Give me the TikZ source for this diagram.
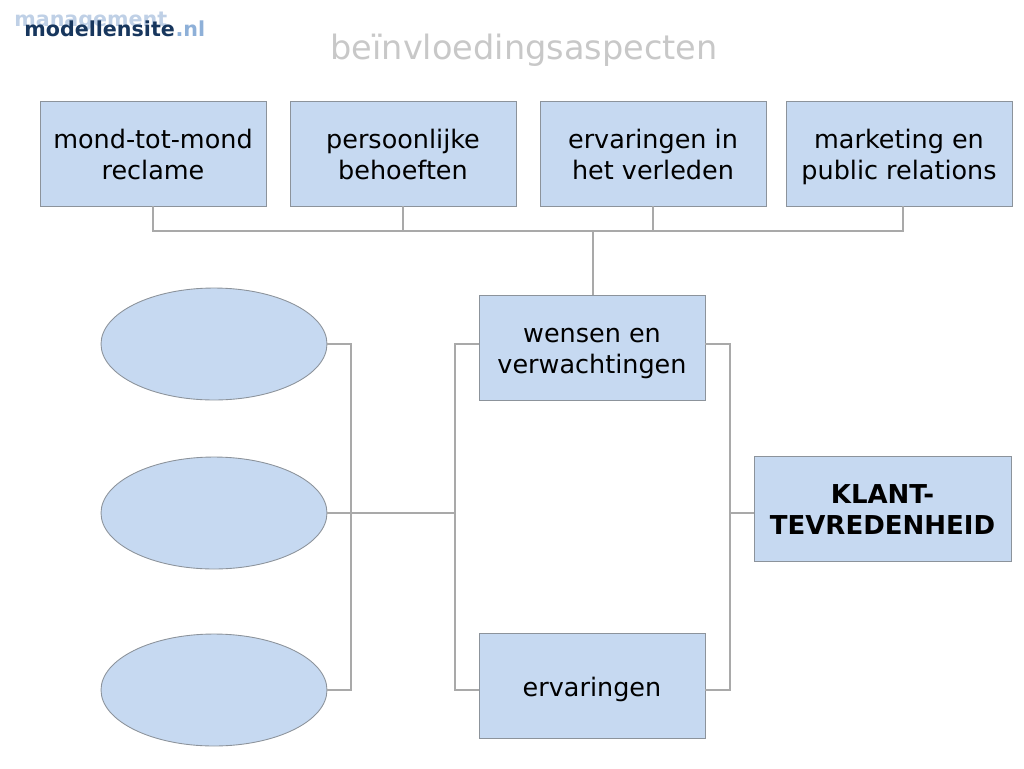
\documentclass[tikz,border=0pt]{standalone}
\usepackage{xcolor}
\usepackage{fontspec}
\setmainfont{DejaVu Sans}
\definecolor{MSFill}{HTML}{C6D9F1}
\definecolor{MSEdge}{HTML}{8C939B}
\definecolor{MSLine}{HTML}{A9A9A9}
\definecolor{MSTitle}{HTML}{C8C8C8}
\definecolor{MSDark}{HTML}{17365D}
\definecolor{MSMid}{HTML}{8EB0D8}
\definecolor{MSPale}{HTML}{BFD0E6}
\newcommand{\lbltop}{\rule{0pt}{15.2pt}}
\newcommand{\lblbot}{\rule[-3.6pt]{0pt}{3.6pt}}
\tikzset{
  infobox/.style={draw=MSEdge,line width=.5pt,fill=MSFill,minimum width=4.52cm,minimum height=2.1cm,inner sep=0pt,align=center,font=\fontsize{14.5}{17.6}\selectfont},
  blankoval/.style={draw=MSEdge,line width=.5pt,fill=MSFill,ellipse,minimum width=4.52cm,minimum height=2.24cm,inner sep=0pt},
  linkline/.style={draw=MSLine,line width=1.5pt},
  logotext/.style={anchor=base west,inner sep=0pt,font=\bfseries\fontsize{11.75}{13}\selectfont}
}
\usetikzlibrary{shapes.geometric}
\begin{document}
\begin{tikzpicture}[x=0.02cm,y=-0.02cm]
\path[use as bounding box] (0,0) rectangle (1024,768);
% logo and title
\node[logotext,text=MSPale] (logoback) at (14,26) {management};
\node[logotext,text=MSDark] (logofront) at (24,36) {modellensite};
\node[logotext,text=MSMid] (logonl) at (logofront.base east) {.nl};
\node[text=MSTitle,inner sep=0pt,font=\fontsize{19.1}{22}\selectfont] (title) at (524,50.5) {beïnvloedingsaspecten};
% top row
\node[infobox] (mond) at (153,153.5) {\lbltop mond-tot-mond\\reclame\lblbot};
\node[infobox] (behoeften) at (403,153.5) {\lbltop persoonlijke\\behoeften\lblbot};
\node[infobox] (verleden) at (653,153.5) {\lbltop ervaringen in\\het verleden\lblbot};
\node[infobox] (marketing) at (899,153.5) {\lbltop marketing en\\public relations\lblbot};
% middle
\node[infobox] (wensen) at (592,347.5) {\lbltop wensen en\\verwachtingen\lblbot};
\node[infobox] (ervaringen) at (592,686) {\lbltop ervaringen\lblbot};
\node[infobox,minimum width=5.14cm,font=\bfseries\fontsize{14.8}{17.6}\selectfont] (klant) at (882.5,509) {\lbltop KLANT-\\TEVREDENHEID\lblbot};
% ovals
\node[blankoval] (ovalA) at (214,344) {};
\node[blankoval] (ovalB) at (214,513) {};
\node[blankoval] (ovalC) at (214,690) {};
% connector points
\coordinate (bustop) at (593,231);
\coordinate (busL) at (mond.south |- bustop);
\coordinate (busR) at (903,231);
\coordinate (marketingS) at (903,206);
\coordinate (ovalbarA) at (351,344);
\coordinate (ovalbarC) at (351,690);
\coordinate (midbarA) at (455,344);
\coordinate (midbarB) at (455,513);
\coordinate (midbarC) at (455,690);
\coordinate (wensenL) at (wensen.west |- ovalA);
\coordinate (wensenR) at (wensen.east |- ovalA);
\coordinate (ervaringenL) at (ervaringen.west |- ovalC);
\coordinate (ervaringenR) at (ervaringen.east |- ovalC);
\coordinate (rightbarA) at (730,344);
\coordinate (rightbarB) at (730,513);
\coordinate (rightbarC) at (730,690);
\coordinate (klantL) at (klant.west |- rightbarB);
% connectors
\draw[linkline] (mond.south) -- (busL) -- (busR) -- (marketingS);
\draw[linkline] (behoeften.south) -- (behoeften.south |- bustop);
\draw[linkline] (verleden.south) -- (verleden.south |- bustop);
\draw[linkline] (bustop) -- (bustop |- wensen.north);
\draw[linkline] (ovalA.east) -- (ovalbarA) -- (ovalbarC) -- (ovalC.east);
\draw[linkline] (ovalB.east) -- (midbarB);
\draw[linkline] (wensenL) -- (midbarA) -- (midbarC) -- (ervaringenL);
\draw[linkline] (wensenR) -- (rightbarA) -- (rightbarC) -- (ervaringenR);
\draw[linkline] (rightbarB) -- (klantL);
\end{tikzpicture}
\end{document}
